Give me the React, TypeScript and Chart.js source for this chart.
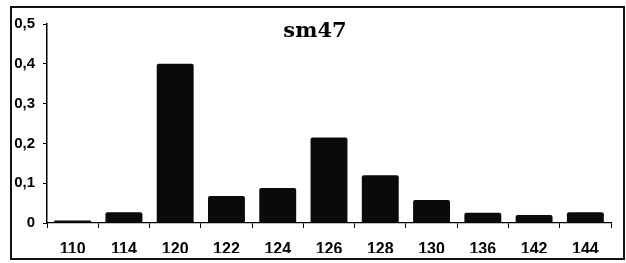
import React, { useEffect, useRef } from "react";
import { Chart, registerables } from "chart.js";

Chart.register(...registerables);

const categories = ["110", "114", "120", "122", "124", "126", "128", "130", "136", "142", "144"];
const frequencies = [0.006, 0.027, 0.4, 0.068, 0.088, 0.215, 0.12, 0.058, 0.026, 0.02, 0.027];
const chartTitle = "sm47";

const titlePlugin = {
  id: "fixedTitle",
  afterDraw(chart: any) {
    const ctx = chart.ctx;
    ctx.save();
    ctx.font = "bold 21px 'DejaVu Serif', serif";
    ctx.fillStyle = "#000";
    ctx.textAlign = "center";
    ctx.textBaseline = "alphabetic";
    ctx.fillText(chartTitle, 315, 37);
    ctx.restore();
  },
};

export default function App() {
  const ref = useRef<HTMLCanvasElement | null>(null);
  useEffect(() => {
    if (!ref.current) return;
    const chart = new Chart(ref.current, {
      type: "bar",
      data: {
        labels: categories,
        datasets: [
          {
            data: frequencies,
            backgroundColor: "#0a0a0a",
            borderWidth: 0,
            borderRadius: 2,
            barPercentage: 0.72,
            categoryPercentage: 1,
          },
        ],
      },
      options: {
        animation: false,
        responsive: false,
        maintainAspectRatio: false,
        layout: { padding: { left: 10, right: 15, top: 24, bottom: 10 } },
        plugins: { legend: { display: false }, title: { display: false }, tooltip: { enabled: false } },
        scales: {
          x: {
            offset: true,
            grid: { display: true, drawOnChartArea: false, drawTicks: true, tickLength: 5, offset: true, color: "#000", lineWidth: 1 },
            border: { display: true, color: "#000", width: 1.3 },
            ticks: {
              color: "#000",
              padding: 12,
              maxRotation: 0,
              autoSkip: false,
              font: { family: "'Liberation Sans', Arial, sans-serif", size: 16, weight: "bold" },
            },
            afterFit(scale: any) {
              scale.height = 30;
            },
          },
          y: {
            min: 0,
            max: 0.5,
            grid: { display: true, drawOnChartArea: false, drawTicks: true, tickLength: 4, color: "#000", lineWidth: 1 },
            border: { display: true, color: "#000", width: 1.5 },
            ticks: {
              stepSize: 0.1,
              color: "#000",
              padding: 8,
              font: { family: "'Liberation Sans', Arial, sans-serif", size: 15, weight: "bold" },
              callback: (v: any) => (Number(v) === 0 ? "0" : Number(v).toFixed(1).replace(".", ",")),
            },
            afterFit(scale: any) {
              scale.width = 37;
            },
          },
        },
      },
      plugins: [titlePlugin],
    });
    return () => chart.destroy();
  }, []);

  return (
    <div style={{ position: "absolute", left: 0, top: 0, width: 626, height: 263, background: "#fff" }}>
      <canvas ref={ref} width={626} height={263} style={{ position: "absolute", left: 0, top: 0, width: 626, height: 263 }} />
      <div
        style={{
          position: "absolute",
          left: 10,
          top: 6,
          width: 615,
          height: 254,
          border: "2px solid #111",
          boxSizing: "border-box",
          pointerEvents: "none",
        }}
      />
    </div>
  );
}
